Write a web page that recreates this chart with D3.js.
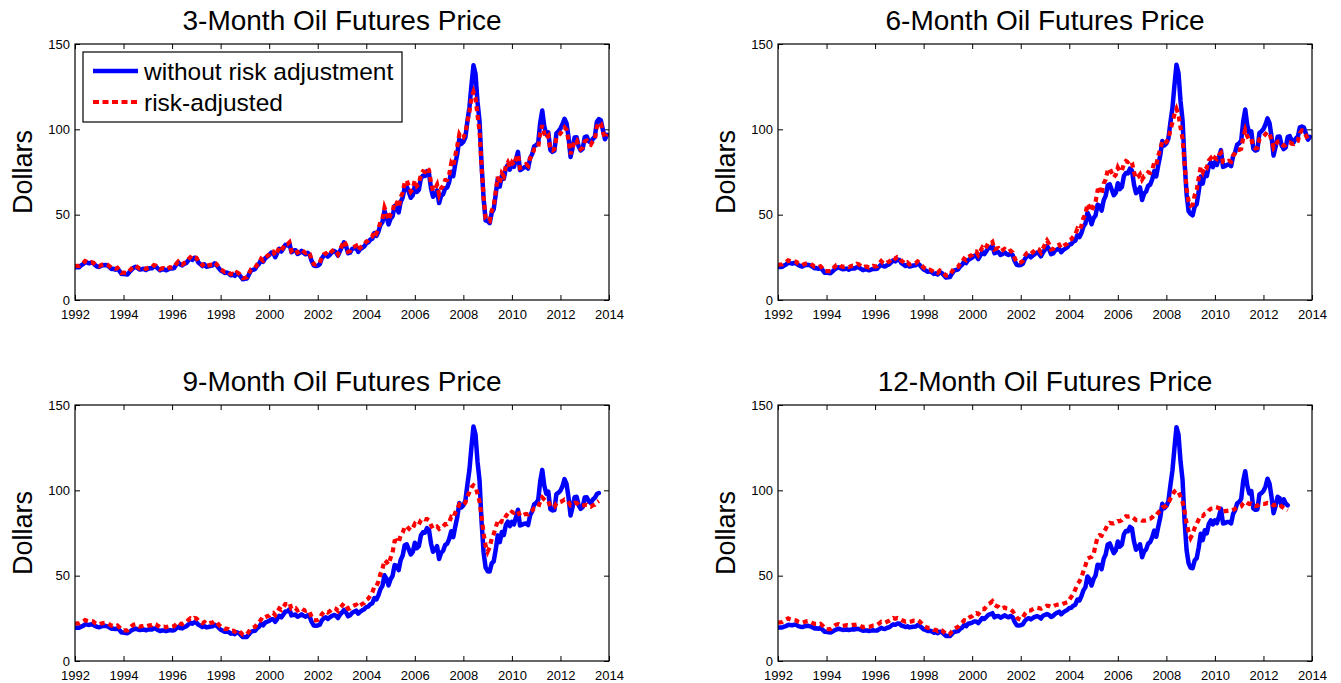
<!DOCTYPE html>
<html><head><meta charset="utf-8">
<script src="https://cdn.jsdelivr.net/npm/d3@7"></script>
<style>
body{margin:0;background:#fff;}
svg{display:block;font-family:"Liberation Sans",Arial,Helvetica,sans-serif;}
</style>
</head><body>
<svg id="chart" width="1341" height="683"></svg>
<script>
// ---------------- DATA (monthly, starting Jan 1992) ----------------
const startYear = 1992;
const titles = ["3-Month Oil Futures Price","6-Month Oil Futures Price","9-Month Oil Futures Price","12-Month Oil Futures Price"];
const xTickValues = [1992,1994,1996,1998,2000,2002,2004,2006,2008,2010,2012,2014];
const yTickValues = [0,50,100,150];
const legendLabels = ["without risk adjustment","risk-adjusted"];
const yLabel = "Dollars";

const blue3 = [
19.2,19.3,19.2,20.3,21.0,22.3,21.9,21.5,21.9,21.6,20.4,19.6,
19.3,20.2,20.4,20.5,20.2,19.3,18.2,18.3,17.8,18.4,17.0,15.2,
15.4,15.1,15.0,16.5,17.8,18.9,19.5,18.6,17.8,18.0,18.3,17.6,
18.2,18.6,18.6,19.7,19.5,18.4,17.4,17.9,18.0,17.4,17.9,18.6,
18.4,18.7,20.6,22.0,20.8,20.3,21.2,21.6,23.2,24.5,23.5,24.8,
24.5,22.0,21.0,19.9,20.9,19.5,19.8,20.1,20.2,21.5,20.5,18.8,
17.3,16.7,15.8,16.1,15.6,14.5,14.8,14.1,15.6,15.0,13.6,12.1,
12.4,12.6,15.0,17.2,17.7,18.1,20.0,21.2,23.5,22.4,24.4,25.3,
26.3,27.8,27.6,25.1,27.5,30.0,28.4,30.2,32.3,32.0,33.2,28.0,
29.0,29.2,27.0,27.6,28.8,27.6,26.8,27.6,26.5,22.8,20.3,19.9,
20.1,21.0,24.3,26.0,26.6,25.4,26.5,27.8,28.8,28.0,26.0,28.6,
31.2,33.8,31.6,27.4,27.8,29.9,30.3,30.9,28.2,29.8,30.6,31.4,
33.2,33.8,35.4,35.9,39.2,37.5,40.0,44.0,45.6,52.3,48.8,44.3,
47.6,49.0,55.0,54.2,51.3,57.4,60.0,66.0,66.7,63.4,59.9,61.3,
67.0,63.3,64.6,71.3,72.8,72.6,75.6,74.3,65.5,60.5,61.7,64.2,
56.8,61.0,62.0,65.5,65.9,69.2,75.2,72.6,79.6,85.6,94.3,91.5,
92.6,95.3,104.8,112.8,125.8,137.5,132.5,116.0,104.8,79.5,59.5,46.6,
46.2,45.0,51.0,53.2,61.8,71.0,66.4,72.8,71.0,77.2,79.4,76.4,
79.8,78.0,82.4,86.8,76.1,76.7,77.7,78.3,77.0,83.2,85.4,90.0,
90.8,92.0,104.0,111.0,101.8,97.0,98.2,88.0,86.8,87.4,97.6,98.8,
100.5,103.0,106.2,103.6,95.4,83.8,89.0,95.2,95.4,90.0,87.6,88.6,
95.4,95.8,93.0,92.1,94.4,95.6,104.4,106.0,105.2,99.6,94.2,96.8
];
const red3 = [
19.8,20.0,20.0,21.0,21.6,22.8,22.3,21.9,22.2,21.9,20.8,20.1,
19.8,20.6,20.9,21.0,20.7,19.9,18.8,18.9,18.4,18.9,17.6,15.9,
16.1,15.9,15.8,17.2,18.5,19.6,20.1,19.2,18.4,18.6,18.9,18.2,
18.8,19.2,19.3,20.4,20.1,19.0,18.0,18.5,18.6,18.0,18.5,19.2,
19.0,19.3,21.1,22.5,21.3,20.8,21.7,22.1,23.8,25.0,24.0,25.2,
24.8,22.5,21.5,20.4,21.4,20.0,20.3,20.6,20.7,22.0,21.0,19.4,
17.9,17.3,16.4,16.7,16.2,15.1,15.4,14.8,16.2,15.6,14.2,12.8,
13.0,13.3,15.7,17.9,18.4,18.8,20.7,21.9,24.1,23.1,25.0,25.8,
26.8,28.5,28.4,26.0,28.3,30.7,29.2,30.9,33.0,32.7,33.8,28.8,
29.7,29.9,27.8,28.4,29.5,28.4,27.6,28.3,27.2,23.6,21.1,20.7,
20.9,21.8,25.1,26.8,27.4,26.2,27.3,28.6,29.6,28.8,26.8,29.4,
32.0,34.6,32.4,28.3,28.7,30.8,31.2,31.8,29.1,30.7,31.5,32.3,
34.2,34.9,36.6,37.2,40.6,39.0,41.6,45.8,47.5,54.2,51.0,46.8,
50.0,51.6,57.6,57.0,54.2,60.2,63.0,69.0,70.0,66.8,63.5,65.0,
70.2,66.8,68.0,73.6,75.4,75.0,77.4,76.2,68.8,64.0,65.2,67.6,
62.0,65.6,66.8,70.2,70.4,73.6,80.0,78.0,84.6,90.4,97.0,94.8,
95.2,97.6,104.6,110.4,118.6,122.0,118.4,108.2,99.0,78.4,60.4,47.8,
46.6,46.2,52.4,55.0,63.6,72.2,68.2,74.2,72.6,78.4,80.6,77.8,
80.6,79.0,82.8,85.2,77.4,77.8,78.8,79.6,78.6,83.0,85.0,88.2,
88.4,89.4,98.0,102.4,97.6,94.6,96.0,88.2,87.6,88.4,95.2,96.4,
97.6,99.6,101.2,99.8,93.4,85.4,89.4,93.6,93.8,90.0,88.4,89.2,
93.0,93.4,91.6,91.0,93.0,94.0,101.6,104.0,103.4,98.6,94.8,97.4
];
const blue6 = [
19.4,19.5,19.4,20.2,20.8,21.9,21.6,21.3,21.7,21.5,20.5,19.9,
19.6,20.3,20.5,20.6,20.3,19.5,18.6,18.7,18.3,18.8,17.6,16.0,
16.1,15.8,15.7,16.8,17.9,18.7,19.2,18.5,18.0,18.2,18.4,17.8,
18.3,18.6,18.5,19.3,19.1,18.3,17.5,17.9,17.9,17.4,17.8,18.3,
18.1,18.3,19.6,20.8,19.9,19.6,20.5,20.9,22.2,23.3,22.6,23.7,
23.5,21.6,20.8,19.9,20.7,19.6,19.9,20.2,20.3,21.4,20.6,19.2,
17.9,17.3,16.5,16.8,16.3,15.3,15.6,15.0,16.3,15.8,14.5,13.1,
13.3,13.4,15.4,17.2,17.6,17.9,19.6,20.6,22.6,21.6,23.4,24.1,
24.8,25.9,25.9,24.0,26.0,28.1,26.9,28.6,30.6,30.5,31.8,27.4,
27.9,28.1,26.4,27.0,28.0,27.0,26.4,27.2,26.3,22.9,20.6,20.3,
20.5,21.2,24.0,25.5,26.1,25.0,26.0,27.0,27.8,27.2,25.6,27.8,
29.6,31.6,29.8,26.8,27.3,29.0,29.6,30.2,28.0,29.3,30.1,30.8,
32.4,32.8,34.2,34.8,38.0,36.8,39.2,43.0,44.8,51.2,48.6,44.4,
47.9,49.6,55.8,55.2,52.4,58.4,61.0,67.2,67.8,64.6,61.4,62.8,
68.4,65.0,66.2,72.6,74.4,74.2,77.0,75.8,67.6,62.6,63.8,66.0,
58.6,62.4,63.6,67.0,67.6,70.6,75.6,72.4,79.0,84.8,93.2,90.6,
91.8,94.6,104.0,112.4,125.8,137.8,133.0,116.6,105.4,80.8,62.0,52.0,
50.4,49.6,54.8,56.2,63.6,72.4,68.2,74.4,72.6,78.6,80.6,77.8,
80.8,79.2,83.4,87.8,78.0,78.4,79.2,79.6,78.4,84.4,86.6,91.0,
91.8,93.4,104.8,111.6,102.4,97.6,98.8,88.6,87.6,88.0,97.8,98.8,
100.2,102.8,106.4,103.6,95.6,84.6,89.8,95.6,95.8,90.6,88.4,89.4,
95.6,96.0,93.4,92.4,94.6,95.6,101.2,101.6,101.0,97.4,94.0,95.6
];
const red6 = [
20.6,20.8,20.8,21.6,22.2,23.2,22.8,22.4,22.6,22.4,21.3,20.7,
20.4,21.1,21.4,21.6,21.3,20.5,19.6,19.7,19.3,19.8,18.6,17.0,
17.0,16.9,16.9,18.2,19.5,20.6,21.0,20.0,19.4,19.6,19.9,19.3,
19.8,20.2,20.3,21.2,20.9,19.9,19.0,19.5,19.5,19.0,19.4,20.0,
19.6,19.9,21.4,22.8,21.6,21.2,22.0,22.4,23.8,25.0,24.2,25.2,
25.0,23.0,22.2,21.2,22.0,20.8,21.1,21.4,21.5,22.6,21.8,20.3,
19.0,18.4,17.5,17.8,17.3,16.3,16.6,16.0,17.3,16.8,15.5,14.3,
14.4,14.6,16.6,18.6,19.0,19.4,21.2,22.2,24.2,23.4,25.2,25.8,
26.4,28.2,28.4,26.4,28.6,30.8,29.6,31.2,33.2,33.0,34.0,29.6,
30.2,30.4,28.6,29.2,30.0,29.0,28.3,28.9,27.9,24.6,22.2,21.8,
22.0,22.9,25.9,27.4,28.0,27.0,28.0,29.2,30.2,29.6,27.8,30.2,
32.6,34.8,32.8,29.6,29.9,31.4,31.9,32.4,30.4,31.6,32.4,33.0,
35.0,35.6,37.2,38.4,41.8,41.0,43.6,48.0,50.4,56.4,54.6,52.0,
55.4,57.6,64.2,64.6,62.6,68.2,70.6,76.2,77.0,74.4,71.8,73.4,
77.6,75.2,75.8,79.6,81.4,80.8,81.8,80.4,75.0,71.2,72.0,73.6,
70.6,72.6,73.0,74.8,74.4,76.2,80.4,79.2,84.6,88.6,93.0,91.8,
92.6,94.2,99.6,104.0,108.8,112.0,108.6,101.2,94.6,79.8,65.2,57.6,
55.2,55.8,61.4,64.6,71.6,78.0,75.0,78.6,77.6,81.8,83.2,81.4,
83.4,82.6,85.0,86.2,80.8,80.4,81.0,81.6,81.0,84.6,86.0,88.0,
88.0,88.6,95.0,99.6,96.0,93.8,94.4,89.6,88.8,89.2,94.2,95.0,
95.8,97.2,98.4,97.6,93.6,89.2,91.0,92.8,93.0,91.2,90.4,90.8,
92.0,92.4,91.6,91.4,92.6,93.2,97.8,99.4,99.0,96.6,94.0,93.0
];
const blue9 = [
19.5,19.6,19.5,20.1,20.6,21.5,21.3,21.1,21.5,21.3,20.5,20.0,
19.8,20.3,20.5,20.6,20.3,19.7,18.9,19.0,18.7,19.1,18.1,16.7,
16.7,16.4,16.3,17.1,18.0,18.6,19.0,18.5,18.1,18.3,18.5,18.0,
18.4,18.6,18.5,19.1,18.9,18.2,17.6,17.9,17.9,17.5,17.8,18.1,
17.9,18.0,19.0,20.0,19.3,19.1,19.9,20.3,21.4,22.3,21.8,22.7,
22.6,21.2,20.6,19.9,20.5,19.7,19.9,20.2,20.3,21.2,20.6,19.5,
18.3,17.8,17.1,17.3,16.9,16.0,16.3,15.7,16.8,16.4,15.2,14.0,
14.1,14.1,15.6,17.1,17.5,17.7,19.2,20.0,21.8,20.9,22.5,23.0,
23.5,24.4,24.4,23.0,24.7,26.5,25.6,27.2,29.0,29.1,30.3,26.7,
27.0,27.2,25.9,26.5,27.4,26.5,26.0,26.8,26.0,22.9,20.8,20.6,
20.8,21.3,23.7,25.0,25.6,24.7,25.6,26.4,27.0,26.5,25.2,27.1,
28.4,29.9,28.5,26.2,26.8,28.2,28.9,29.5,27.7,28.9,29.7,30.3,
31.6,31.9,33.2,33.8,36.9,36.1,38.5,42.1,44.0,50.2,48.3,44.3,
47.9,49.9,56.2,55.9,53.2,59.2,61.8,67.8,68.4,65.4,62.4,63.9,
69.3,66.1,67.3,73.5,75.4,75.2,77.9,76.8,68.9,64.0,65.2,67.3,
59.8,63.4,64.6,68.0,68.7,71.6,76.0,72.6,78.8,84.4,92.6,90.0,
91.2,94.0,103.4,112.0,125.4,137.4,132.8,116.8,105.8,81.6,63.6,54.8,
52.6,52.4,57.2,58.4,65.2,73.6,69.6,75.6,73.8,79.6,81.6,79.0,
81.6,80.0,84.2,88.6,79.4,79.8,80.4,80.6,79.6,85.4,87.6,91.8,
92.6,94.4,105.4,112.0,102.8,98.0,99.2,89.0,88.2,88.4,97.8,98.6,
99.8,102.4,106.6,103.8,95.8,85.2,90.2,96.0,96.2,91.2,89.2,90.2,
95.8,96.0,93.6,92.6,94.6,95.6,97.8,98.4
];
const red9 = [
21.8,22.0,22.0,22.6,23.2,24.0,23.6,23.3,23.4,23.2,22.2,21.7,
21.4,22.0,22.3,22.5,22.2,21.5,20.7,20.7,20.3,20.8,19.7,18.2,
18.0,18.0,18.0,19.2,20.4,21.3,21.6,20.8,20.2,20.4,20.7,20.2,
20.6,20.9,21.0,21.8,21.5,20.6,19.8,20.2,20.2,19.8,20.2,20.6,
20.2,20.4,21.6,22.8,21.9,21.6,22.3,22.7,24.0,25.0,24.4,25.2,
25.0,23.6,23.0,22.2,22.8,21.8,22.0,22.4,22.5,23.4,22.7,21.4,
20.2,19.6,18.8,19.0,18.5,17.5,17.7,17.1,18.2,17.7,16.6,15.4,
15.4,15.6,17.4,19.2,19.6,20.0,21.6,22.6,24.4,23.8,25.6,26.2,
26.6,28.0,28.2,26.8,28.8,30.8,30.0,31.6,33.4,33.4,34.2,30.6,
30.8,31.0,29.6,30.2,31.0,30.0,29.4,29.8,28.8,25.8,24.0,23.8,
24.0,24.8,27.4,28.6,29.2,28.4,29.2,30.2,31.0,30.6,29.4,31.2,
32.4,33.8,32.6,30.6,30.9,32.0,32.6,33.0,31.6,32.6,33.4,34.0,
35.8,36.6,38.4,40.2,43.6,43.8,46.6,51.0,54.0,59.0,58.0,56.6,
60.4,63.6,70.2,70.6,69.4,73.6,75.2,78.6,79.0,77.6,76.6,77.8,
80.4,79.4,80.0,82.6,83.6,83.0,83.2,82.4,79.6,77.6,78.2,78.8,
77.4,78.4,78.8,80.2,80.2,81.4,84.4,83.8,87.0,89.2,91.8,91.0,
91.6,92.8,96.4,99.0,101.8,103.0,102.2,98.0,93.4,84.6,74.6,67.6,
64.0,66.6,71.6,74.4,78.4,81.8,80.4,82.0,81.8,84.8,86.4,85.8,
87.4,86.8,87.6,88.0,85.0,85.2,85.8,86.2,86.0,87.6,88.2,89.4,
89.6,90.0,93.6,95.8,94.6,93.4,93.6,90.6,90.0,90.2,92.4,92.8,
93.2,93.8,94.6,94.2,93.0,91.2,91.8,92.6,92.6,91.4,90.8,91.0,
91.4,91.6,90.8,90.4,91.2,91.6,93.0,93.8
];
const blue12 = [
19.6,19.7,19.6,20.1,20.5,21.2,21.1,20.9,21.3,21.2,20.5,20.1,
19.9,20.3,20.5,20.6,20.3,19.8,19.1,19.2,18.9,19.3,18.4,17.2,
17.1,16.8,16.7,17.3,18.0,18.5,18.9,18.5,18.2,18.3,18.5,18.1,
18.4,18.6,18.5,18.9,18.8,18.2,17.7,17.9,17.9,17.6,17.8,18.0,
17.8,17.9,18.6,19.4,18.9,18.8,19.5,19.8,20.7,21.5,21.2,21.9,
21.9,20.8,20.4,19.9,20.3,19.7,19.9,20.1,20.2,21.0,20.6,19.6,
18.6,18.2,17.6,17.7,17.4,16.6,16.8,16.3,17.2,16.9,15.8,14.7,
14.7,14.6,15.8,17.0,17.3,17.5,18.8,19.5,21.1,20.4,21.8,22.1,
22.5,23.2,23.2,22.2,23.7,25.2,24.6,25.8,27.0,27.4,28.0,25.6,
26.2,26.4,25.4,26.0,26.8,26.1,25.6,26.4,25.7,22.9,21.0,20.8,
21.0,21.4,23.4,24.6,25.1,24.4,25.2,25.9,26.3,25.9,24.9,26.5,
27.0,27.6,27.0,25.8,26.4,27.6,28.3,28.9,27.4,28.5,29.3,29.9,
31.0,31.2,32.4,33.0,36.0,35.5,37.9,41.4,43.3,49.5,48.0,44.2,
47.9,50.1,56.4,56.3,53.8,59.8,62.4,68.3,68.9,66.0,63.2,64.8,
70.0,67.0,68.2,74.2,76.2,76.0,78.6,77.6,70.0,65.2,66.4,68.4,
60.8,64.2,65.4,68.8,69.6,72.4,76.4,72.8,78.8,84.2,92.2,89.6,
90.8,93.6,103.0,111.6,124.8,137.0,132.6,117.0,106.2,82.4,65.0,57.2,
54.6,54.4,59.0,60.2,66.6,74.6,70.8,76.6,74.8,80.4,82.4,80.0,
82.4,80.8,84.8,89.2,80.6,80.8,81.4,81.4,80.6,86.2,88.4,92.4,
93.2,95.0,105.6,111.2,102.8,98.2,99.6,89.4,88.6,88.8,97.6,98.4,
99.6,102.2,106.8,104.0,96.0,86.6,90.8,96.2,95.4,90.6,94.8,92.4,
91.2
];
const red12 = [
22.4,22.6,22.8,23.6,24.4,25.0,24.4,24.0,24.0,23.8,23.0,22.6,
22.4,22.8,23.2,23.4,23.0,22.4,21.8,21.8,21.4,21.8,20.8,19.4,
18.6,18.6,18.8,19.8,20.8,21.4,21.6,21.0,20.6,20.8,21.0,20.8,
21.0,21.2,21.2,21.4,21.0,20.4,19.8,20.2,20.2,20.0,20.4,20.8,
21.0,21.2,22.0,23.0,22.6,22.4,23.0,23.6,24.4,25.2,24.8,25.2,
24.8,24.0,23.6,23.0,23.4,23.0,23.2,23.6,23.6,24.0,23.2,22.0,
20.6,20.0,19.4,19.4,19.0,18.2,18.2,17.6,18.4,18.0,17.0,15.8,
15.4,15.8,17.4,18.6,19.4,20.0,21.4,22.4,23.8,23.6,25.0,25.8,
26.2,27.4,28.0,27.4,28.8,30.4,30.4,32.0,33.4,34.0,35.0,33.0,
32.2,31.8,30.6,31.0,31.4,30.8,30.6,30.2,29.2,27.4,25.6,24.6,
24.2,25.4,27.6,28.8,29.6,29.6,30.4,31.0,31.2,31.0,30.6,31.2,
31.6,32.4,32.2,31.6,32.0,32.6,33.0,33.2,33.0,33.6,34.0,34.4,
36.0,37.6,39.4,42.0,45.0,46.6,49.0,52.6,56.0,60.0,60.6,61.0,
62.4,68.0,72.6,73.8,73.4,75.6,77.4,80.0,81.0,80.6,80.6,81.2,
82.0,82.0,82.6,84.0,84.8,84.6,84.8,84.6,83.6,82.6,82.6,82.8,
82.2,82.2,82.4,83.2,83.4,84.2,85.6,85.4,87.0,88.2,90.0,90.4,
91.0,92.6,95.2,97.4,99.4,100.2,99.0,96.4,93.2,87.6,80.6,75.6,
72.2,74.6,78.0,80.4,83.0,85.2,85.0,86.2,86.6,88.2,89.2,89.4,
90.2,90.0,89.6,89.0,87.6,87.8,88.0,88.2,88.0,88.6,89.2,90.0,
90.2,90.6,92.4,93.4,92.6,92.0,92.2,91.2,90.8,91.0,91.8,92.0,
92.0,92.2,92.6,92.4,92.0,91.2,91.6,92.0,91.6,90.6,89.6,88.8,
88.2
];

// ---------------- LAYOUT ----------------
const PW = 534, PH = 256;
const panels = [
  {title: titles[0], blue: blue3,  red: red3,  left: 75,  top: 44,  legend: true},
  {title: titles[1], blue: blue6,  red: red6,  left: 778, top: 44,  legend: false},
  {title: titles[2], blue: blue9,  red: red9,  left: 75,  top: 405, legend: false},
  {title: titles[3], blue: blue12, red: red12, left: 778, top: 405, legend: false}
];
const BLUE = "#0000ff", RED = "#ff0000";
const DASH = "5,4";
const svg = d3.select("#chart");
svg.append("rect").attr("width",1341).attr("height",683).attr("fill","#fff");

panels.forEach((p, pi) => {
  const g = svg.append("g").attr("transform", `translate(${p.left},${p.top})`);
  const x = d3.scaleLinear().domain([1992, 2014]).range([0, PW]);
  const y = d3.scaleLinear().domain([0, 150]).range([PH, 0]);

  const clipId = "clip" + pi;
  g.append("clipPath").attr("id", clipId)
    .append("rect").attr("x", 0).attr("y", -4).attr("width", PW).attr("height", PH + 4);

  const styleAxis = sel => {
    sel.select(".domain").remove();
    sel.selectAll(".tick line").attr("stroke", "#000").attr("stroke-width", 1);
    sel.selectAll("text").attr("fill", "#000")
      .style("font-family", '"Liberation Sans", Arial, sans-serif').style("font-size", "13px");
  };
  g.append("g").attr("transform", `translate(0,${PH})`)
    .call(d3.axisBottom(x).tickValues(xTickValues).tickFormat(d3.format("d")).tickSize(-5).tickPadding(10))
    .call(styleAxis);
  g.append("g")
    .call(d3.axisTop(x).tickValues(xTickValues).tickFormat("").tickSize(-5))
    .call(styleAxis);
  g.append("g")
    .call(d3.axisLeft(y).tickValues(yTickValues).tickSize(-5).tickPadding(5))
    .call(styleAxis);
  g.append("g").attr("transform", `translate(${PW},0)`)
    .call(d3.axisRight(y).tickValues(yTickValues).tickFormat("").tickSize(-5))
    .call(styleAxis);

  const line = d3.line()
    .x((d, i) => x(startYear + i / 12))
    .y(d => y(d));
  const lg = g.append("g").attr("clip-path", `url(#${clipId})`);
  lg.append("path").datum(p.blue).attr("d", line)
    .attr("fill", "none").attr("stroke", BLUE).attr("stroke-width", 4.5)
    .attr("stroke-linejoin", "round").attr("stroke-linecap", "round");
  lg.append("path").datum(p.red).attr("d", line)
    .attr("fill", "none").attr("stroke", RED).attr("stroke-width", 4.2)
    .attr("stroke-dasharray", DASH);

  g.append("rect").attr("x", 0).attr("y", 0).attr("width", PW).attr("height", PH)
    .attr("fill", "none").attr("stroke", "#000").attr("stroke-width", 1.2);

  g.append("text").attr("x", PW / 2).attr("y", -14).attr("text-anchor", "middle")
    .style("font-size", "28px").attr("fill", "#000").text(p.title);

  g.append("text").attr("transform", `translate(-43,${PH / 2}) rotate(-90)`)
    .attr("text-anchor", "middle").style("font-size", "27px").attr("fill", "#000").text(yLabel);

  if (p.legend) {
    const L = g.append("g").attr("transform", "translate(8,8)");
    L.append("rect").attr("width", 319).attr("height", 70)
      .attr("fill", "#fff").attr("stroke", "#000").attr("stroke-width", 1.2);
    L.append("line").attr("x1", 10).attr("x2", 55).attr("y1", 19).attr("y2", 19)
      .attr("stroke", BLUE).attr("stroke-width", 4.5);
    L.append("line").attr("x1", 10).attr("x2", 55).attr("y1", 50).attr("y2", 50)
      .attr("stroke", RED).attr("stroke-width", 4.2).attr("stroke-dasharray", "6,3.5");
    L.append("text").attr("x", 61).attr("y", 28).style("font-size", "24.5px").attr("fill", "#000").text(legendLabels[0]);
    L.append("text").attr("x", 61).attr("y", 59).style("font-size", "24.5px").attr("fill", "#000").text(legendLabels[1]);
  }
});
</script>
</body></html>
